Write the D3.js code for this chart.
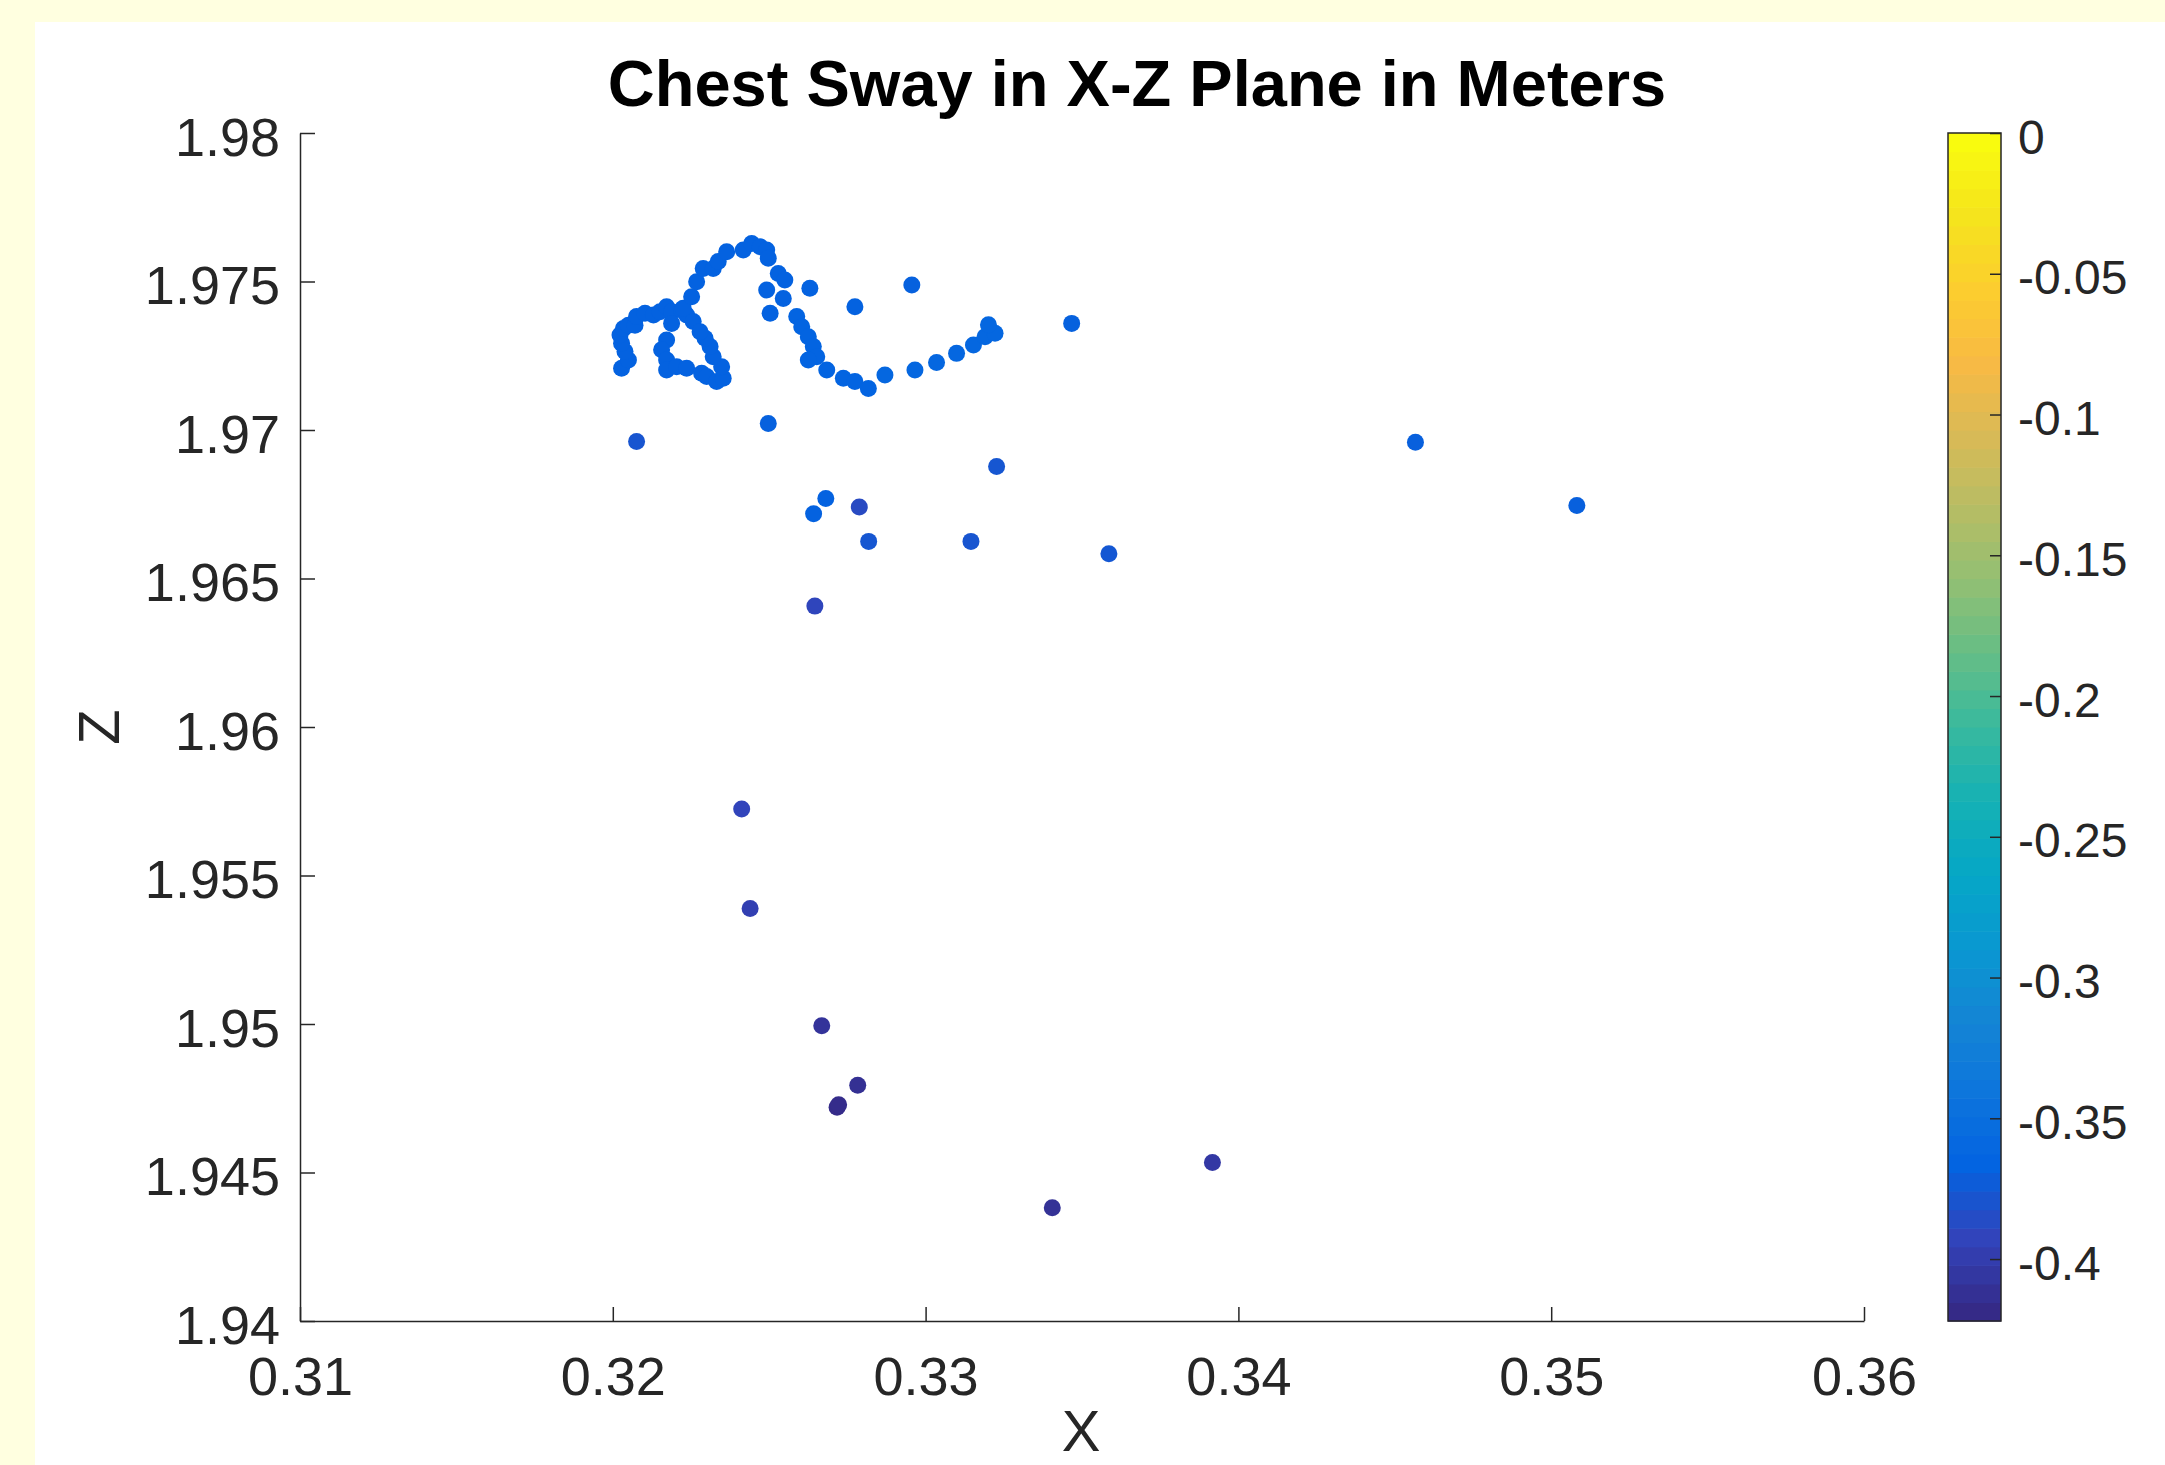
<!DOCTYPE html>
<html>
<head>
<meta charset="utf-8">
<script src="https://cdn.jsdelivr.net/npm/d3@7/dist/d3.min.js"></script>
<style>
  body { margin: 0; background: #ffffe0; }
  svg { display: block; }
</style>
</head>
<body>
<div id="app"></div>
<script>
// chest marker positions (x, z) and the colour value (third coordinate)
const xValues = [
  0.32028, 0.32050, 0.32039, 0.32028, 0.32023, 0.32034, 0.32050, 0.32071, 0.32076, 0.32103,
  0.32130, 0.32151, 0.32172, 0.32188, 0.32220, 0.32236, 0.32257, 0.32188, 0.32172, 0.32156,
  0.32172, 0.32172, 0.32204, 0.32236, 0.32284, 0.32300, 0.32332, 0.32353, 0.32348, 0.32321,
  0.32311, 0.32295, 0.32279, 0.32225, 0.32252, 0.32268, 0.32289, 0.32321, 0.32337, 0.32364,
  0.32417, 0.32444, 0.32471, 0.32492, 0.32497, 0.32529, 0.32550, 0.32492, 0.32545, 0.32503,
  0.32630, 0.32588, 0.32604, 0.32625, 0.32641, 0.32652, 0.32625, 0.32684, 0.32737, 0.32774,
  0.32817, 0.32870, 0.32966, 0.33035, 0.33099, 0.33153, 0.33190, 0.33222, 0.33201, 0.32774,
  0.32956, 0.32497, 0.32076, 0.33227, 0.33467, 0.34566, 0.35082, 0.33586, 0.33145, 0.32818,
  0.32788, 0.32681, 0.32642, 0.32646, 0.32412, 0.32439, 0.32668, 0.32783, 0.32717, 0.32722,
  0.33917, 0.33405
]
const zValues = [
  1.97208, 1.97236, 1.97264, 1.97292, 1.97320, 1.97342, 1.97353, 1.97353, 1.97382, 1.97393,
  1.97387, 1.97398, 1.97415, 1.97398, 1.97404, 1.97387, 1.97365, 1.97359, 1.97303, 1.97270,
  1.97236, 1.97202, 1.97213, 1.97208, 1.97191, 1.97180, 1.97163, 1.97174, 1.97213, 1.97247,
  1.97281, 1.97309, 1.97331, 1.97410, 1.97449, 1.97499, 1.97544, 1.97544, 1.97567, 1.97600,
  1.97606, 1.97628, 1.97617, 1.97606, 1.97578, 1.97527, 1.97505, 1.97471, 1.97443, 1.97393,
  1.97477, 1.97382, 1.97348, 1.97314, 1.97281, 1.97247, 1.97236, 1.97202, 1.97174, 1.97163,
  1.97140, 1.97185, 1.97202, 1.97227, 1.97258, 1.97286, 1.97314, 1.97326, 1.97354, 1.97415,
  1.97488, 1.97022, 1.96961, 1.96877, 1.97359, 1.96959, 1.96746, 1.96583, 1.96625, 1.96625,
  1.96741, 1.96769, 1.96718, 1.96407, 1.95724, 1.95389, 1.94994, 1.94794, 1.94720, 1.94728,
  1.94534, 1.94381
]
const cValues = [
  -0.370, -0.370, -0.370, -0.370, -0.370, -0.370, -0.370, -0.370, -0.370, -0.370,
  -0.370, -0.370, -0.370, -0.370, -0.370, -0.370, -0.370, -0.370, -0.370, -0.370,
  -0.370, -0.370, -0.370, -0.370, -0.370, -0.370, -0.370, -0.370, -0.370, -0.370,
  -0.370, -0.370, -0.370, -0.370, -0.370, -0.370, -0.370, -0.370, -0.370, -0.370,
  -0.370, -0.370, -0.370, -0.370, -0.370, -0.370, -0.370, -0.370, -0.370, -0.370,
  -0.370, -0.368, -0.368, -0.368, -0.368, -0.368, -0.368, -0.368, -0.368, -0.368,
  -0.368, -0.364, -0.364, -0.364, -0.364, -0.364, -0.364, -0.364, -0.364, -0.370,
  -0.371, -0.371, -0.381, -0.380, -0.371, -0.372, -0.372, -0.379, -0.381, -0.380,
  -0.390, -0.370, -0.370, -0.394, -0.395, -0.400, -0.412, -0.416, -0.421, -0.420,
  -0.407, -0.414
]

const xTicks = [0.31, 0.32, 0.33, 0.34, 0.35, 0.36]
const zTicks = [1.94, 1.945, 1.95, 1.955, 1.96, 1.965, 1.97, 1.975, 1.98]
const cTicks = [0, -0.05, -0.1, -0.15, -0.2, -0.25, -0.3, -0.35, -0.4]
const xLimits = [0.31, 0.36]
const zLimits = [1.94, 1.98]
const cLimits = [-0.422, 0]

// parula colormap, sampled
const parulaStops = ['#352a87', '#3243ba', '#0363e1', '#0d75dc', '#1485d4', '#0998d1',
  '#06a7c6', '#15b1b4', '#38b99e', '#65be86', '#92bf73', '#b7bd64', '#d9ba56',
  '#f8ba44', '#fcce2e', '#f5e41d', '#f9fb0e']

;(function (d3) {
  'use strict'

  const parula = d3.piecewise(d3.interpolateRgb, parulaStops)

  const w = 2165
  const h = 1465
  const padLeft = 300
  const padRight = 1864
  const padTop = 133
  const padBottom = 1321
  const font = '"Liberation Sans", Arial, Helvetica, sans-serif'
  const ink = '#262626'

  const svg = d3.select('#app')
    .append('svg')
    .attr('width', w)
    .attr('height', h)

  // white figure panel on the yellow page
  svg.append('rect')
    .attr('x', 35)
    .attr('y', 22)
    .attr('width', w - 35)
    .attr('height', h - 22)
    .attr('fill', '#ffffff')

  const xScale = d3.scaleLinear().domain(xLimits).range([padLeft, padRight])
  const zScale = d3.scaleLinear().domain(zLimits).range([padBottom, padTop])
  const cScale = d3.scaleLinear().domain(cLimits).range([0, 1]).clamp(true)

  // points
  const points = xValues.map((x, i) => ({ x: x, z: zValues[i], c: cValues[i] }))
  svg.append('g')
    .selectAll('circle')
    .data(points)
    .enter()
    .append('circle')
    .attr('cx', d => xScale(d.x))
    .attr('cy', d => zScale(d.z))
    .attr('r', 8.5)
    .attr('fill', d => parula(cScale(d.c)))

  // x axis
  const fmt = d => String(+d.toFixed(3))
  const xAxis = d3.axisBottom(xScale)
    .tickValues(xTicks)
    .tickFormat(fmt)
    .tickSizeInner(-14)
    .tickSizeOuter(0)
    .tickPadding(36)
  const gx = svg.append('g')
    .attr('transform', 'translate(0,' + padBottom + ')')
    .call(xAxis)
  gx.attr('font-size', 54).attr('font-family', font)

  // z axis
  const zAxis = d3.axisLeft(zScale)
    .tickValues(zTicks)
    .tickFormat(fmt)
    .tickSizeInner(-15)
    .tickSizeOuter(0)
    .tickPadding(20)
  const gz = svg.append('g')
    .attr('transform', 'translate(' + padLeft + ',0)')
    .call(zAxis)
  gz.attr('font-size', 54).attr('font-family', font)
  gz.selectAll('.tick text').attr('dy', '0.41em')

  svg.selectAll('.domain, .tick line').attr('stroke', ink).attr('stroke-width', 1.5)
  svg.selectAll('.tick text').attr('fill', ink)

  // title and labels
  svg.append('text')
    .attr('x', 1137)
    .attr('y', 106)
    .attr('text-anchor', 'middle')
    .attr('font-family', font)
    .attr('font-weight', 'bold')
    .attr('font-size', 65)
    .attr('fill', '#000')
    .text('Chest Sway in X-Z Plane in Meters')

  svg.append('text')
    .attr('x', 1081)
    .attr('y', 1451)
    .attr('text-anchor', 'middle')
    .attr('font-family', font)
    .attr('font-size', 58)
    .attr('fill', ink)
    .text('X')

  svg.append('text')
    .attr('transform', 'translate(119,727) rotate(-90)')
    .attr('text-anchor', 'middle')
    .attr('font-family', font)
    .attr('font-size', 58)
    .attr('fill', ink)
    .text('Z')

  // colorbar
  const cbX = 1948
  const cbW = 53
  const cbScale = d3.scaleLinear().domain(cLimits).range([padBottom, padTop])
  const bands = d3.range(64)
  const bandH = (padBottom - padTop) / 64
  const cb = svg.append('g')
  cb.selectAll('rect')
    .data(bands)
    .enter()
    .append('rect')
    .attr('x', cbX)
    .attr('y', d => padBottom - (d + 1) * bandH)
    .attr('width', cbW)
    .attr('height', bandH + 0.6)
    .attr('fill', d => parula(d / 63))
  cb.append('rect')
    .attr('x', cbX)
    .attr('y', padTop)
    .attr('width', cbW)
    .attr('height', padBottom - padTop)
    .attr('fill', 'none')
    .attr('stroke', ink)
    .attr('stroke-width', 1.5)

  const cAxis = d3.axisRight(cbScale)
    .tickValues(cTicks)
    .tickFormat(d => String(+d.toFixed(2)))
    .tickSizeInner(-11)
    .tickSizeOuter(0)
    .tickPadding(17)
  const gc = svg.append('g')
    .attr('transform', 'translate(' + (cbX + cbW) + ',0)')
    .call(cAxis)
  gc.attr('font-size', 48).attr('font-family', font)
  gc.select('.domain').remove()
  gc.selectAll('.tick line').attr('stroke', ink).attr('stroke-width', 1.5)
  gc.selectAll('.tick text').attr('fill', ink).attr('dy', '0.42em')
}(d3))
</script>
</body>
</html>
